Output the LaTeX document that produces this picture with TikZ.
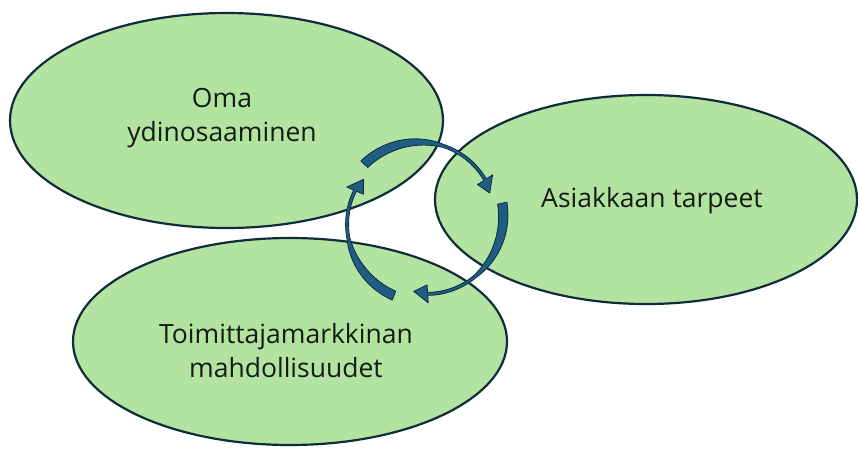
\documentclass[tikz,border=0pt]{standalone}
\usepackage{fontspec}
\setmainfont{Open Sans}
\usetikzlibrary{shapes.geometric}

\definecolor{leaf}{HTML}{B3E3A1}
\definecolor{rim}{HTML}{102C3A}
\definecolor{cyclefill}{HTML}{1F5E82}
\definecolor{cycleline}{HTML}{0C2B40}
\definecolor{ink}{HTML}{141C12}

% width and radius of the tapered cycle arrows, as functions of the
% fraction s of the body travelled from the tail (0) to the head (1)
\pgfmathdeclarefunction{taperw}{1}{\begingroup\pgfmathparse{3.0+6.5*max(0,1-(#1/0.6)^2)}\pgfmathsmuggle\pgfmathresult\endgroup}
\pgfmathdeclarefunction{taperr}{1}{\begingroup\pgfmathparse{81-7*#1}\pgfmathsmuggle\pgfmathresult\endgroup}

\def\cx{423}
\def\cy{-220}

% #1 = tail angle, #2 = tip angle (clockwise, so #2 < #1)
\newcommand\cyclearrow[2]{%
  \pgfmathsetmacro\headang{#2+11}%
  \fill[cyclefill, draw=cycleline, line width=0.8pt, line join=round]
    plot[domain=#1:\headang, samples=50, variable=\t]
      ({\cx+(taperr((#1-\t)/(#1-\headang))+0.5*taperw((#1-\t)/(#1-\headang)))*cos(\t)},
       {\cy+(taperr((#1-\t)/(#1-\headang))+0.5*taperw((#1-\t)/(#1-\headang)))*sin(\t)})
    -- ({\cx+83*cos(\headang)},{\cy+83*sin(\headang)})
    -- ({\cx+72*cos(#2)},{\cy+72*sin(#2)})
    -- ({\cx+65*cos(\headang)},{\cy+65*sin(\headang)})
    -- plot[domain=\headang:#1, samples=50, variable=\t]
      ({\cx+(taperr((#1-\t)/(#1-\headang))-0.5*taperw((#1-\t)/(#1-\headang)))*cos(\t)},
       {\cy+(taperr((#1-\t)/(#1-\headang))-0.5*taperw((#1-\t)/(#1-\headang)))*sin(\t)})
    -- cycle;
}

\tikzset{
  blob/.style={ellipse, fill=leaf, inner sep=0pt},
  rimline/.style={draw=rim, line width=2.2pt},
  lbl/.style={text=ink, align=center, font=\fontsize{26.5}{34}\selectfont, inner sep=0pt},
}

\begin{document}
\begin{tikzpicture}[x=1pt, y=1pt]
  \useasboundingbox (0,0) rectangle (858,-448);
  \fill[white] (0,0) rectangle (858,-448);

  % the three fields
  \node[blob, minimum width=433pt, minimum height=215pt] (oma)   at (226.5,-120.5) {};
  \node[blob, minimum width=422pt, minimum height=209pt] (asiak) at (646,-199.5) {};
  \node[blob, minimum width=434pt, minimum height=207pt] (toim)  at (290,-341.5) {};

  % outlines on top of all fills
  \draw[rimline] (oma.center)   ellipse [x radius=216.5, y radius=107.5];
  \draw[rimline] (asiak.center) ellipse [x radius=211,   y radius=104.5];
  \draw[rimline] (toim.center)  ellipse [x radius=217,   y radius=103.5];

  % labels
  \node[lbl] (omatxt)   at (222,-118) {Oma\\ydinosaaminen};
  \node[lbl] (asiaktxt) at (652,-201) {Asiakkaan tarpeet};
  \node[lbl] (toimtxt)  at (286,-351) {Toimittajamarkkinan\\mahdollisuudet};

  % the cycle in the middle
  \coordinate (cyc) at (\cx,\cy);
  \cyclearrow{136.5}{22}
  \cyclearrow{12}{-97.4}
  \cyclearrow{249}{145.6}
\end{tikzpicture}
\end{document}
